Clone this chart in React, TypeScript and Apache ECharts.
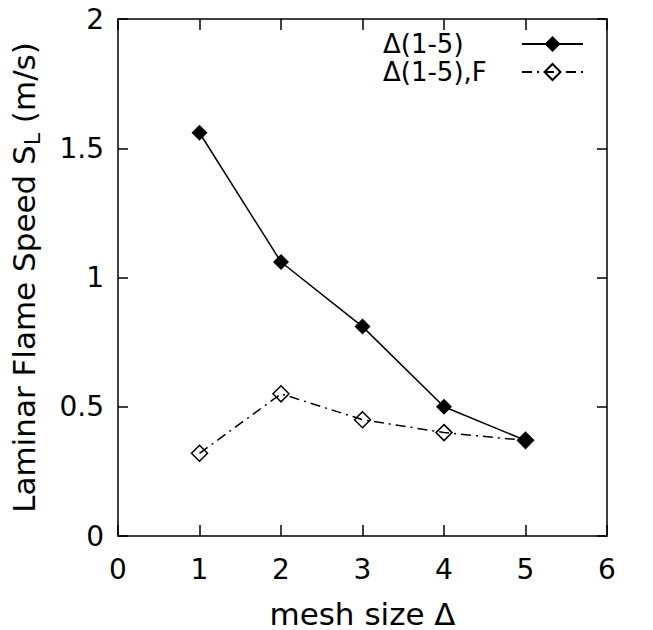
import React, { useEffect, useRef } from "react";
import * as echarts from "echarts";

const meshSizes = [1, 2, 3, 4, 5];
const seriesNames = ["Δ(1-5)", "Δ(1-5),F"];
const speedBase = [1.56, 1.06, 0.81, 0.5, 0.37];
const speedF = [0.32, 0.55, 0.45, 0.4, 0.37];

const FONT = "DejaVu Sans";

export default function App() {
  const ref = useRef<HTMLDivElement>(null);
  useEffect(() => {
    document.body.style.margin = "0";
    document.body.style.overflow = "hidden";
    const chart = echarts.init(ref.current!, null, { renderer: "svg" });
    const axisLine = { show: true, onZero: false, lineStyle: { color: "#000", width: 1.5 } };
    const text = { color: "#000", fontFamily: FONT, fontSize: 28 };
    const title = { ...text, fontSize: 31 };
    chart.setOption({
      animation: false,
      backgroundColor: "#fff",
      textStyle: { fontFamily: FONT },
      grid: {
        left: 118,
        right: 46,
        top: 19,
        bottom: 94,
        containLabel: false,
        outerBoundsMode: "none",
      },
      legend: {
        orient: "vertical",
        left: 378,
        top: 26,
        align: "right",
        itemWidth: 61,
        itemHeight: 20,
        itemGap: 2,
        formatter: (n: string) => `{a|${n}}`,
        textStyle: {
          ...text,
          fontSize: 26,
          rich: { a: { ...text, fontSize: 26, width: 134, align: "left", lineHeight: 20 } },
        },
        data: seriesNames,
      },
      xAxis: [
        {
          type: "value",
          min: 0,
          max: 6,
          interval: 1,
          position: "bottom",
          name: "mesh size Δ",
          nameLocation: "middle",
          nameGap: 62,
          nameTextStyle: title,
          axisLine,
          axisTick: { inside: true, length: 11, lineStyle: { color: "#000", width: 1.5 } },
          axisLabel: { ...text, margin: 19 },
          splitLine: { show: false },
        },
        {
          type: "value",
          min: 0,
          max: 6,
          interval: 1,
          position: "top",
          axisLine,
          axisTick: { inside: true, length: 11, lineStyle: { color: "#000", width: 1.5 } },
          axisLabel: { show: false },
          splitLine: { show: false },
        },
      ],
      yAxis: [
        {
          type: "value",
          min: 0,
          max: 2,
          interval: 0.5,
          position: "left",
          name: "Laminar Flame Speed S{sub|L} (m/s)",
          nameLocation: "middle",
          nameRotate: 90,
          nameGap: 75,
          nameTextStyle: {
            ...title,
            rich: { sub: { ...title, fontSize: 22, padding: [17, 0, 0, 0] } },
          },
          axisLine,
          axisTick: { inside: true, length: 10, lineStyle: { color: "#000", width: 1.5 } },
          axisLabel: { ...text, margin: 14 },
          splitLine: { show: false },
        },
        {
          type: "value",
          min: 0,
          max: 2,
          interval: 0.5,
          position: "right",
          axisLine,
          axisTick: { inside: true, length: 10, lineStyle: { color: "#000", width: 1.5 } },
          axisLabel: { show: false },
          splitLine: { show: false },
        },
      ],
      series: [
        {
          name: seriesNames[0],
          type: "line",
          data: meshSizes.map((x, i) => [x, speedBase[i]]),
          symbol: "diamond",
          symbolSize: 16,
          itemStyle: { color: "#000" },
          lineStyle: { color: "#000", width: 1.5, type: "solid" },
        },
        {
          name: seriesNames[1],
          type: "line",
          data: meshSizes.map((x, i) => [x, speedF[i]]),
          symbol: "diamond",
          symbolSize: 16,
          itemStyle: { color: "rgba(0,0,0,0)", borderColor: "#000", borderWidth: 1.5 },
          lineStyle: { color: "#000", width: 1.5, type: [10, 5, 2, 5] },
        },
      ],
    });
    return () => chart.dispose();
  }, []);
  return <div ref={ref} style={{ width: 653, height: 630, overflow: "hidden" }} />;
}
